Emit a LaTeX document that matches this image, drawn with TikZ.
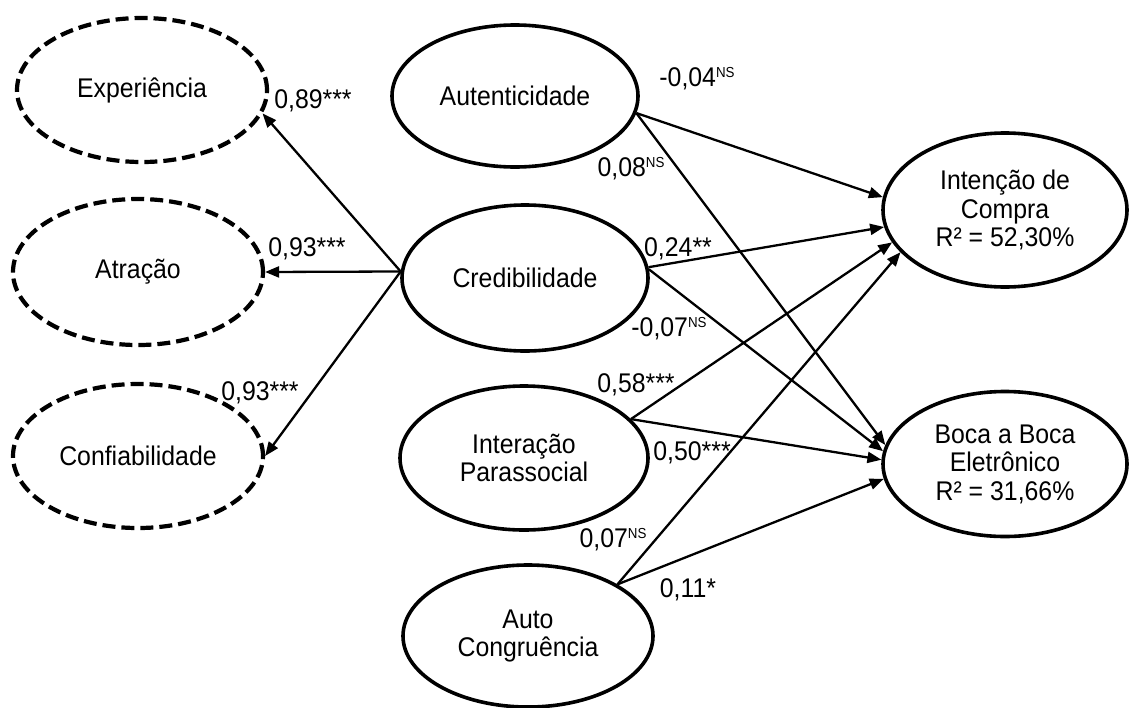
\documentclass[tikz,border=0pt]{standalone}
\usepackage{fontspec}
\setmainfont{Liberation Sans}[FakeStretch=0.92]
\usetikzlibrary{shapes.geometric,arrows.meta}
\newcommand\nsup{\raisebox{9pt}{\fontsize{14.5}{14.5}\selectfont NS}}
\begin{document}
\begin{tikzpicture}[x=1pt,y=-1pt,
 lat/.style={ellipse,draw,line width=3.6pt,inner sep=0pt,align=center,font=\fontsize{27}{28.5}\selectfont},
 dim/.style={lat,line width=4.2pt,dash pattern=on 13pt off 6pt},
 arr/.style={line width=2.3pt,-{Triangle[length=14pt,width=11pt]}},
 lbl/.style={inner sep=0pt,font=\fontsize{27}{28.5}\selectfont}]
\useasboundingbox[fill=white] (0,0) rectangle (1129,707);
% first-order dimensions
\node[dim,minimum width=250pt,minimum height=144pt] (exp) at (142,90) {Experiência};
\node[dim,minimum width=250pt,minimum height=146pt] (atr) at (138,272) {Atração};
\node[dim,minimum width=250pt,minimum height=144pt] (conf) at (138,456) {Confiabilidade};
% constructs
\node[lat,minimum width=246pt,minimum height=142pt] (aut) at (515,96) {Autenticidade};
\node[lat,minimum width=246pt,minimum height=146pt] (cred) at (525,278) {Credibilidade};
\node[lat,minimum width=248pt,minimum height=144pt] (inter) at (524,458) {Interação\\Parassocial};
\node[lat,minimum width=250pt,minimum height=142pt] (auto) at (528,636) {Auto\\Congruência};
\node[lat,minimum width=244pt,minimum height=154pt] (int) at (1005,210) {Intenção de\\Compra\\R² = 52,30\%};
\node[lat,minimum width=244pt,minimum height=145pt] (boca) at (1005,464) {Boca a Boca\\Eletrônico\\R² = 31,66\%};
% loadings
\draw[arr] (cred.177) -- (exp.-11);
\draw[arr] (cred.177) -- (atr.east);
\draw[arr] (cred.177) -- (conf.east);
% paths
\draw[arr] (aut.-8) -- (int.174);
\draw[arr] (aut.-8) -- (boca.171);
\draw[arr] (cred.5) -- (int.188);
\draw[arr] (cred.4) -- (boca.174);
\draw[arr] (inter.20) -- (int.196);
\draw[arr] (inter.20) -- (boca.178);
\draw[arr] (auto.30) -- (int.202);
\draw[arr] (auto.30) -- (boca.187);
% labels
\node[lbl] (l1) at (313,101) {0,89***};
\node[lbl] (l2) at (307,249) {0,93***};
\node[lbl] (l3) at (260,393) {0,93***};
\node[lbl] (l4) at (697,79) {-0,04\nsup};
\node[lbl] (l5) at (631,169) {0,08\nsup};
\node[lbl] (l6) at (678,249) {0,24**};
\node[lbl] (l7) at (669,329) {-0,07\nsup};
\node[lbl] (l8) at (636,385) {0,58***};
\node[lbl] (l9) at (692,453) {0,50***};
\node[lbl] (l10) at (613,540) {0,07\nsup};
\node[lbl] (l11) at (688,590) {0,11*};
\end{tikzpicture}
\end{document}
